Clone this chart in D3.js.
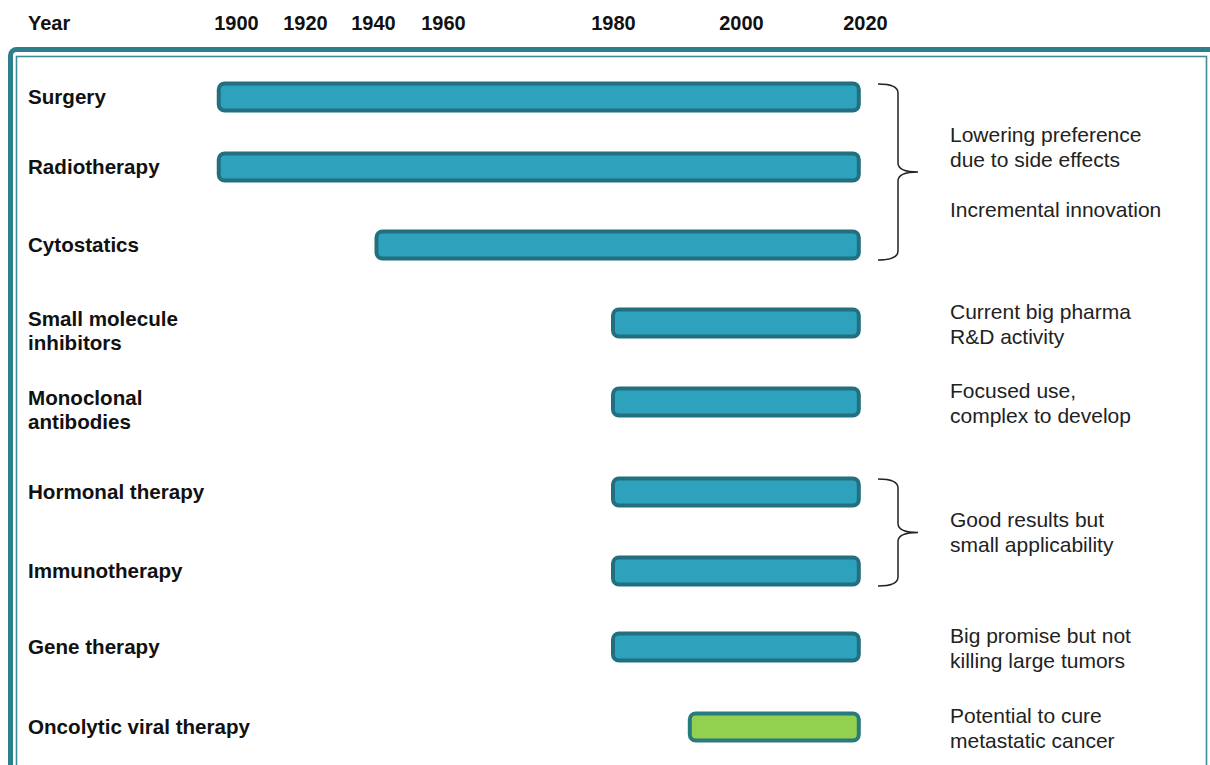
<!DOCTYPE html>
<html>
<head>
<meta charset="utf-8">
<script src="https://cdn.jsdelivr.net/npm/d3@7/dist/d3.min.js"></script>
<style>
  html, body { margin: 0; padding: 0; background: #ffffff; }
  svg { display: block; }
  text { font-family: "Liberation Sans", Arial, sans-serif; }
</style>
</head>
<body>
<svg id="chart" width="1210" height="765"></svg>
<script>
// Therapies, first line / second line of each label
const therapies = [
  ["Surgery"],
  ["Radiotherapy"],
  ["Cytostatics"],
  ["Small molecule", "inhibitors"],
  ["Monoclonal", "antibodies"],
  ["Hormonal therapy"],
  ["Immunotherapy"],
  ["Gene therapy"],
  ["Oncolytic viral therapy"]
];
// Year each therapy came into use, and the year the timeline runs to
const startYears = [1895, 1895, 1941, 1980, 1980, 1980, 1980, 1980, 1992];
const endYears   = [2019, 2019, 2019, 2019, 2019, 2019, 2019, 2019, 2019];
// Emerging therapy flag (drawn in green)
const emerging   = [false, false, false, false, false, false, false, false, true];

// Year axis tick labels
const yearTicks = [1900, 1920, 1940, 1960, 1980, 2000, 2020];

// Commentary on the right: lines, and the rows each comment spans
const noteLines = [
  ["Lowering preference", "due to side effects", "", "Incremental innovation"],
  ["Current big pharma", "R&D activity"],
  ["Focused use,", "complex to develop"],
  ["Good results but", "small applicability"],
  ["Big promise but not", "killing large tumors"],
  ["Potential to cure", "metastatic cancer"]
];
const noteRows = [[0, 2], [3, 3], [4, 4], [5, 6], [7, 7], [8, 8]];
// Comments that group several rows with a curly brace
const braceGroups = [[0, 2], [5, 6]];

const svg = d3.select("#chart");

// The year axis is stretched unevenly: the recent decades get more room
const x = d3.scaleLinear()
  .domain(yearTicks)
  .range([236, 305, 373, 443, 613, 741, 865]);

// Row centres (rows are not evenly spaced)
const y = d3.scaleLinear()
  .domain(d3.range(therapies.length))
  .range([97, 167, 245, 323, 402, 492, 571, 647, 727]);

// Frame: thick outer rule with a thin inner rule
svg.append("rect")
  .attr("x", 10.5).attr("y", 49.5)
  .attr("width", 1300).attr("height", 800)
  .attr("rx", 6)
  .attr("fill", "none")
  .attr("stroke", "#2d7f8d")
  .attr("stroke-width", 5);
svg.append("rect")
  .attr("x", 16.5).attr("y", 56.5)
  .attr("width", 1190).attr("height", 800)
  .attr("fill", "#ffffff")
  .attr("stroke", "#3c8c9a")
  .attr("stroke-width", 1.6);

// Year header
svg.append("text")
  .attr("x", 28).attr("y", 30)
  .attr("font-size", 20).attr("font-weight", "bold")
  .attr("fill", "#111")
  .text("Year");

const axis = svg.append("g")
  .attr("transform", "translate(0,30)")
  .call(d3.axisTop(x).tickValues(yearTicks).tickFormat(d3.format("d")).tickSize(0).tickPadding(0));
axis.select(".domain").remove();
axis.selectAll("text")
  .attr("font-size", 20)
  .attr("font-weight", "bold")
  .attr("font-family", "'Liberation Sans', Arial, sans-serif")
  .attr("fill", "#111")
  .attr("dy", 0);

// Therapy labels
const labelG = svg.append("g");
therapies.forEach((lines, i) => {
  const t = labelG.append("text")
    .attr("x", 28)
    .attr("font-size", 20.6)
    .attr("font-weight", "bold")
    .attr("fill", "#111");
  const first = lines.length === 1 ? y(i) + 7 : y(i) + 3;
  lines.forEach((ln, k) => {
    t.append("tspan").attr("x", 28).attr("y", first + k * 24).text(ln);
  });
});

// Timeline bars
const barH = 27;
svg.append("g")
  .selectAll("rect")
  .data(therapies.map((d, i) => i))
  .join("rect")
  .attr("x", i => x(startYears[i]))
  .attr("y", i => y(i) - barH / 2)
  .attr("width", i => x(endYears[i]) - x(startYears[i]))
  .attr("height", barH)
  .attr("rx", 6)
  .attr("fill", i => emerging[i] ? "#92d050" : "#2ea1bc")
  .attr("stroke", i => emerging[i] ? "#297a7c" : "#22707f")
  .attr("stroke-width", 4);

// Curly braces grouping rows
function bracePath(top, bot) {
  const x0 = 878, x1 = 898, tip = 918;
  const mid = (top + bot) / 2;
  const r = 9;
  return `M${x0},${top} Q${x1},${top} ${x1},${top + r}` +
         ` L${x1},${mid - r} Q${x1},${mid} ${tip},${mid}` +
         ` Q${x1},${mid} ${x1},${mid + r}` +
         ` L${x1},${bot - r} Q${x1},${bot} ${x0},${bot}`;
}
svg.append("g")
  .selectAll("path")
  .data(braceGroups)
  .join("path")
  .attr("d", g => bracePath(y(g[0]) - 13, y(g[1]) + 15))
  .attr("fill", "none")
  .attr("stroke", "#222")
  .attr("stroke-width", 1.5);

// Commentary
const noteG = svg.append("g");
noteLines.forEach((lines, i) => {
  const c = (y(noteRows[i][0]) + y(noteRows[i][1])) / 2 + 1;
  const lh = 25;
  const first = c - (lines.length - 1) * lh / 2;
  const t = noteG.append("text")
    .attr("font-size", 21)
    .attr("fill", "#222");
  lines.forEach((ln, k) => {
    t.append("tspan").attr("x", 950).attr("y", first + k * lh + 7).text(ln);
  });
});
</script>
</body>
</html>
